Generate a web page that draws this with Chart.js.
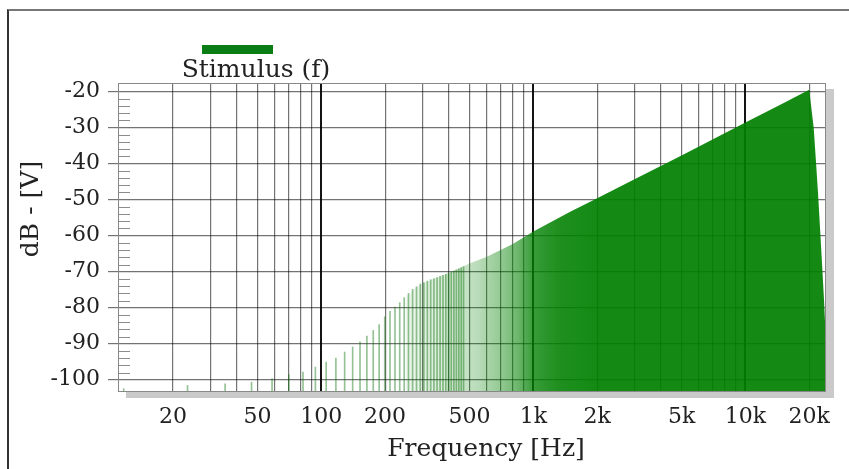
<!DOCTYPE html>
<html>
<head>
<meta charset="utf-8">
<script src="https://cdn.jsdelivr.net/npm/chart.js@4.4.1/dist/chart.umd.min.js"></script>
<style>
html, body { margin: 0; padding: 0; background: #fff; overflow: hidden; }
#wrap { position: relative; width: 849px; height: 469px; }
#box { position: absolute; left: 0; top: 0; width: 849px; height: 469px; }
#frame { position: absolute; left: 7px; top: 9px; width: 900px; height: 500px; border-top: 2px solid #777; border-left: 2px solid #333; pointer-events: none; }
.txt { position: absolute; font-family: "DejaVu Serif", serif; font-size: 25px; line-height: 25px; color: #222; white-space: nowrap; }
#legSwatch { position: absolute; left: 202px; top: 45px; width: 71px; height: 9px; }
#legText { left: 256px; top: 56px; transform: translateX(-50%); }
#xTitle { left: 486px; top: 435px; transform: translateX(-50%); }
#yTitle { left: 29px; top: 209px; transform: translate(-50%, -50%) rotate(-90deg); }
</style>
</head>
<body>
<div id="wrap">
  <div id="box"><canvas id="stimChart"></canvas></div>
  <div id="frame"></div>
  <div id="legSwatch"></div>
  <div id="legText" class="txt"></div>
  <div id="xTitle" class="txt">Frequency [Hz]</div>
  <div id="yTitle" class="txt">dB - [V]</div>
</div>
<script>
const seriesName = 'Stimulus (f)';

// individual FFT bins at the low end (Hz / dB)
const stemFreqs = [11.7, 23.4, 35.2, 46.9, 58.6, 70.3, 82.0, 93.8, 105.5, 117.2,
  128.9, 140.6, 152.3, 164.1, 175.8, 187.5, 199.2, 210.9, 222.7, 234.4,
  246.1, 257.8, 269.5, 281.3, 293.0, 304.7, 316.4, 328.1, 339.8, 351.6,
  363.3, 375.0, 386.7, 398.4, 410.2, 421.9, 433.6, 445.3, 457.0, 468.8];
const stemLevels = [-102.5, -101.6, -101.1, -100.7, -99.7, -98.6, -97.9, -96.5, -95.1, -94.0,
  -92.3, -90.9, -89.5, -87.9, -86.3, -84.7, -82.5, -81.0, -79.8, -78.6,
  -77.2, -76.0, -74.9, -74.2, -73.4, -73.0, -72.6, -72.2, -71.9, -71.6,
  -71.3, -71.0, -70.7, -70.4, -70.1, -69.8, -69.5, -69.2, -68.9, -68.6];

// upper envelope of the dense part of the spectrum
const envFreqs = [250, 280, 300, 400, 500, 600, 800, 1000, 1500, 2000, 3000, 5000, 7000,
  10000, 15000, 20000, 21000, 21500, 22000, 22500, 23000, 23500, 24000];
const envLevels = [-77.0, -74.3, -73.3, -70.3, -67.7, -65.9, -62.3, -58.8, -53.3, -49.6, -44.3, -37.7, -33.3,
  -28.6, -23.3, -19.5, -30, -39, -48, -58, -68, -78, -90];

// axes
const xGridValues = [20, 30, 40, 50, 60, 70, 80, 90, 100, 200, 300, 400, 500, 600, 700, 800, 900,
  1000, 2000, 3000, 4000, 5000, 6000, 7000, 8000, 9000, 10000, 20000];
const xLabelValues = [20, 50, 100, 200, 500, 1000, 2000, 5000, 10000, 20000];
const xDecades = [100, 1000, 10000];
const yTickLabels = [-100, -90, -80, -70, -60, -50, -40, -30, -20];
const xMin = 11, xMax = 24000, yMin = -103.4, yMax = -17.6;

// bin density shading (freq -> opacity)
const shadeFreqs = [250, 350, 450, 550, 700, 850, 1000, 1300, 2000];
const shadeAlpha = [0.06, 0.13, 0.2, 0.28, 0.42, 0.58, 0.78, 0.88, 0.92];

const green = 'rgb(10,125,20)';
document.getElementById('legSwatch').style.background = green;
document.getElementById('legText').textContent = seriesName;

function shadeFill(context) {
    const chart = context.chart;
    if (!chart.chartArea || !chart.scales.x) return 'rgba(0,128,0,0.7)';
    const xs = chart.scales.x;
    const x0 = xs.getPixelForValue(shadeFreqs[0]);
    const x1 = xs.getPixelForValue(shadeFreqs[shadeFreqs.length - 1]);
    const g = chart.ctx.createLinearGradient(x0, 0, x1, 0);
    shadeFreqs.forEach((f, i) => {
        g.addColorStop((xs.getPixelForValue(f) - x0) / (x1 - x0), `rgba(0,128,0,${shadeAlpha[i]})`);
    });
    return g;
}

function fmtFreq(v) {
    return v >= 1000 ? (v / 1000) + 'k' : String(v);
}

const isMajorY = v => Number.isInteger(v) && v % 10 === 0;
const gridGray = 'rgba(0,0,0,0.55)';

// white plot with drop shadow, border and small inner ticks
const plotFrame = {
    id: 'plotFrame',
    beforeDraw(chart) {
        const { ctx, chartArea: a } = chart;
        ctx.save();
        ctx.fillStyle = '#cacaca';
        ctx.fillRect(a.left + 8, a.top + 6, a.right - a.left, a.bottom - a.top);
        ctx.fillStyle = '#fff';
        ctx.fillRect(a.left, a.top, a.right - a.left, a.bottom - a.top);
        ctx.restore();
    },
    afterDraw(chart) {
        const { ctx, chartArea: a } = chart;
        const ys = chart.scales.y;
        ctx.save();
        ctx.strokeStyle = 'rgba(0,0,0,0.45)';
        ctx.lineWidth = 1;
        ys.ticks.forEach(t => {
            if (!Number.isInteger(t.value) || isMajorY(t.value)) return;
            const y = Math.round(ys.getPixelForValue(t.value)) + 0.5;
            ctx.beginPath();
            ctx.moveTo(a.left, y);
            ctx.lineTo(a.left + 12, y);
            ctx.stroke();
        });
        ctx.strokeStyle = '#888';
        ctx.strokeRect(a.left + 0.5, a.top + 0.5, a.right - a.left - 1, a.bottom - a.top - 1);
        ctx.restore();
    }
};

const tickFont = { family: 'DejaVu Serif', size: 22 };

new Chart(document.getElementById('stimChart'), {
    type: 'bar',
    data: {
        datasets: [{
            type: 'line',
            label: seriesName,
            data: envFreqs.map((f, i) => ({ x: f, y: envLevels[i] })),
            fill: 'start',
            backgroundColor: shadeFill,
            borderColor: 'transparent',
            borderWidth: 0,
            pointRadius: 0,
            tension: 0,
            order: 2
        }, {
            type: 'bar',
            label: seriesName,
            data: stemFreqs.map((f, i) => ({ x: f, y: [yMin, stemLevels[i]] })),
            backgroundColor: 'rgba(0,110,0,0.42)',
            barThickness: 1,
            order: 1
        }]
    },
    options: {
        responsive: true,
        maintainAspectRatio: false,
        animation: false,
        events: [],
        layout: { padding: { top: 83, right: 23, left: 0, bottom: 0 } },
        plugins: {
            legend: { display: false },
            tooltip: { enabled: false }
        },
        scales: {
            x: {
                type: 'logarithmic',
                min: xMin,
                max: xMax,
                offset: false,
                z: 1,
                afterBuildTicks: s => { s.ticks = xGridValues.map(v => ({ value: v })); },
                afterFit: s => { s.height = 77; },
                grid: {
                    offset: false,
                    drawTicks: false,
                    color: c => xDecades.includes(c.tick.value) ? 'rgba(0,0,0,0.92)' : gridGray,
                    lineWidth: c => xDecades.includes(c.tick.value) ? 2 : 1.2
                },
                border: { display: false },
                ticks: {
                    autoSkip: false,
                    maxRotation: 0,
                    padding: 12,
                    color: '#222',
                    font: tickFont,
                    callback: v => xLabelValues.includes(v) ? fmtFreq(v) : ''
                }
            },
            y: {
                min: yMin,
                max: yMax,
                z: 1,
                afterFit: s => { s.width = 118; },
                grid: {
                    color: c => isMajorY(c.tick.value) ? gridGray : 'rgba(0,0,0,0)',
                    tickColor: c => isMajorY(c.tick.value) ? gridGray : 'rgba(0,0,0,0)',
                    lineWidth: 1.2,
                    tickLength: 10
                },
                border: { display: false },
                ticks: {
                    stepSize: 2,
                    autoSkip: false,
                    padding: 8,
                    color: '#222',
                    font: tickFont,
                    callback: v => yTickLabels.includes(v) ? String(v) : ''
                }
            }
        }
    },
    plugins: [plotFrame]
});
</script>
</body>
</html>
